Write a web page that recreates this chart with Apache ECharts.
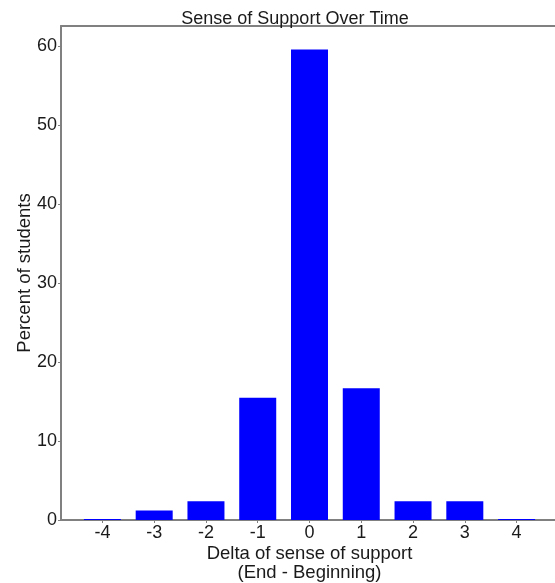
<!DOCTYPE html>
<html><head><meta charset="utf-8">
<script src="https://cdn.jsdelivr.net/npm/echarts@6/dist/echarts.min.js"></script>
<style>html,body{margin:0;padding:0;background:#fff}#c{width:555px;height:583px}</style>
</head><body><div id="c"></div>
<script>
const categories = [-4, -3, -2, -1, 0, 1, 2, 3, 4];
const percents = [0, 1.19, 2.38, 15.48, 59.52, 16.67, 2.38, 2.38, 0];
const yTicks = [0, 10, 20, 30, 40, 50, 60];
const titleText = 'Sense of Support Over Time';
const xName = 'Delta of sense of support\n(End - Beginning)';
const yName = 'Percent of students';

const font = 'Liberation Sans, Arial, sans-serif';
const axisColor = '#808080';
const textColor = '#1a1a1a';
const chart = echarts.init(document.getElementById('c'), null, {renderer: 'canvas'});
chart.setOption({
  animation: false,
  title: {text: titleText, left: 290, top: 5, textAlign: 'center',
    textStyle: {fontFamily: font, fontSize: 18, fontWeight: 'normal', color: textColor}},
  grid: {left: 61, right: -3, top: 26, bottom: 63, containLabel: false, outerBoundsMode: 'none'},
  xAxis: [{
    type: 'value', min: -4.8, max: 4.8, position: 'bottom',
    splitLine: {show: false},
    axisLine: {show: true, onZero: false, lineStyle: {color: axisColor, width: 2}},
    axisTick: {show: true, length: 3, lineStyle: {color: axisColor, width: 1}, customValues: categories},
    axisLabel: {customValues: categories, color: textColor, fontFamily: font, fontSize: 18, margin: 4},
    name: xName, nameLocation: 'middle', nameGap: 24, nameMoveOverlap: false,
    nameTextStyle: {fontFamily: font, fontSize: 18.5, color: textColor, lineHeight: 19.5, verticalAlign: 'top'}
  }, {
    type: 'value', min: -4.8, max: 4.8, position: 'top',
    splitLine: {show: false}, axisTick: {show: false}, axisLabel: {show: false},
    axisLine: {show: true, onZero: false, lineStyle: {color: axisColor, width: 2}}
  }],
  yAxis: {
    type: 'value', min: 0, max: 62.5, interval: 10,
    splitLine: {show: false},
    axisLine: {show: true, onZero: false, lineStyle: {color: axisColor, width: 2}},
    axisTick: {show: true, length: 3, lineStyle: {color: axisColor, width: 1}, customValues: yTicks},
    axisLabel: {customValues: yTicks, color: textColor, fontFamily: font, fontSize: 18, margin: 4},
    name: yName, nameLocation: 'middle', nameGap: 27, nameMoveOverlap: false,
    nameTextStyle: {fontFamily: font, fontSize: 18.5, color: textColor}
  },
  series: [{
    type: 'bar', xAxisIndex: 0,
    data: categories.map((c, i) => [c, percents[i]]),
    barWidth: 37, barMinHeight: 1,
    itemStyle: {color: '#0000ff'}
  }]
});
</script></body></html>
